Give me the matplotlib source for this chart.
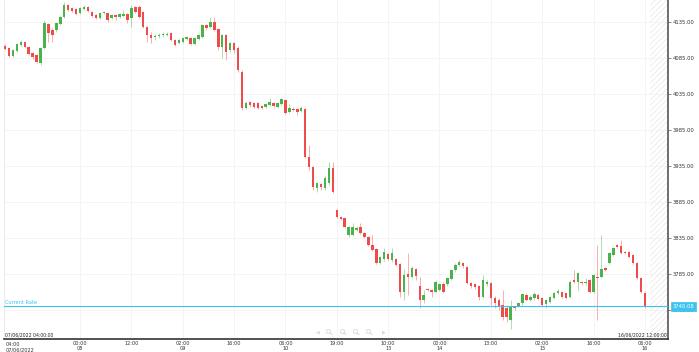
import matplotlib
matplotlib.use("Agg")
import matplotlib.pyplot as plt
import numpy as np

# hourly candles, 07/06/2022 04:00 -> 16/06/2022 12:00
opens = [4102, 4099, 4088, 4095, 4103, 4107, 4100, 4092, 4089, 4078,
         4099, 4132, 4124, 4124, 4132, 4142, 4159, 4155, 4153, 4148,
         4153, 4156, 4149, 4145, 4141, 4148, 4148, 4141, 4145, 4142,
         4143, 4146, 4141, 4156, 4156, 4149, 4128, 4117, 4114, 4115,
         4117, 4117, 4120, 4110, 4106, 4107, 4111, 4113, 4105, 4111,
         4114, 4131, 4128, 4135, 4125, 4100, 4117, 4096, 4106, 4099,
         4066, 4016, 4024, 4022, 4022, 4018, 4017, 4020, 4022, 4017,
         4021, 4027, 4010, 4014, 4014, 4011, 4014, 3948, 3934, 3905,
         3910, 3905, 3911, 3932, 3874, 3864, 3863, 3839, 3839, 3846,
         3850, 3842, 3836, 3825, 3820, 3800, 3806, 3813, 3805, 3806,
         3799, 3760, 3785, 3781, 3792, 3768, 3749, 3764, 3763, 3760,
         3763, 3771, 3771, 3778, 3791, 3798, 3800, 3795, 3773, 3771,
         3768, 3753, 3771, 3773, 3752, 3749, 3742, 3738, 3721, 3739.5,
         3741, 3745, 3756, 3749, 3752, 3756, 3752, 3743, 3746, 3752,
         3759, 3760, 3759, 3753, 3777, 3774, 3774, 3772.5, 3777, 3760,
         3781, 3781, 3793, 3800, 3811, 3825, 3824, 3816, 3816, 3811,
         3800, 3780, 3759]
highs = [4105, 4100, 4098, 4106, 4110, 4109, 4102, 4093, 4091, 4100,
         4138, 4134, 4127, 4135, 4145, 4163, 4160, 4156, 4155, 4156,
         4159, 4157, 4150, 4146, 4149, 4150, 4149, 4146, 4146, 4148,
         4152, 4148, 4159, 4157, 4159, 4150, 4130, 4121, 4118, 4120,
         4121, 4121, 4121, 4111, 4111, 4114, 4116, 4114, 4114, 4118,
         4132, 4132, 4142, 4142, 4127, 4118, 4118, 4107, 4107, 4102,
         4068, 4025, 4025, 4024, 4024, 4020, 4022, 4030, 4024, 4024,
         4030, 4028, 4021, 4017, 4016, 4018, 4016, 3964, 3935, 3913,
         3911, 3921, 3941, 3941, 3875, 3866, 3864, 3852, 3856, 3852,
         3856, 3843, 3838, 3839, 3821, 3810, 3821, 3814, 3821, 3807,
         3800, 3792, 3814, 3796, 3793, 3781, 3763, 3766, 3764, 3777,
         3773, 3774, 3781, 3792, 3800, 3805, 3802, 3796, 3774, 3773,
         3770, 3784, 3777, 3774, 3755, 3752, 3763, 3742, 3749, 3741,
         3746, 3759, 3759, 3756, 3760, 3759, 3753, 3750, 3755, 3760,
         3764, 3761, 3760, 3777, 3791, 3788, 3775, 3780, 3778, 3785,
         3825, 3839, 3795, 3816, 3823, 3827, 3832, 3817, 3817, 3813,
         3802, 3781, 3760]
lows = [4096, 4086, 4086, 4093, 4102, 4099, 4089, 4084, 4078, 4075,
        4098, 4107, 4107, 4121, 4131, 4141, 4150, 4149, 4145, 4146,
        4152, 4149, 4142, 4139, 4139, 4146, 4135, 4139, 4138, 4141,
        4142, 4134, 4128, 4148, 4141, 4127, 4107, 4106, 4110, 4113,
        4114, 4116, 4109, 4102, 4105, 4106, 4110, 4103, 4103, 4110,
        4113, 4124, 4127, 4122, 4096, 4085, 4082, 4093, 4092, 4066,
        4013, 4014, 4017, 4016, 4014, 4014, 4016, 4018, 4017, 4016,
        4020, 4007, 4009, 4011, 4006, 4010, 3946, 3930, 3902, 3899,
        3902, 3902, 3909, 3898, 3863, 3860, 3849, 3836, 3838, 3845,
        3841, 3835, 3824, 3817, 3799, 3799, 3803, 3804, 3802, 3796,
        3753, 3749, 3756, 3780, 3777, 3738, 3745, 3761, 3753, 3759,
        3761, 3759, 3768, 3777, 3788, 3796, 3793, 3771, 3766, 3764,
        3749, 3752, 3768, 3742, 3738, 3735, 3721, 3718, 3709, 3735,
        3739, 3742, 3748, 3748, 3749, 3749, 3741, 3738, 3745, 3750,
        3757, 3752, 3750, 3752, 3772, 3763, 3770, 3770, 3759, 3759,
        3721, 3779, 3789, 3799, 3810, 3821, 3813, 3813, 3807, 3799,
        3778, 3759, 3738]
closes = [4098, 4088, 4096, 4105, 4107, 4100, 4091, 4086, 4080, 4099,
          4134, 4120, 4117, 4134, 4142, 4159, 4152, 4150, 4146, 4155,
          4156, 4150, 4143, 4141, 4148, 4149, 4138, 4145, 4142, 4146,
          4146, 4138, 4155, 4149, 4142, 4128, 4117, 4113, 4116, 4117,
          4119, 4119, 4110, 4103, 4110, 4113, 4114, 4105, 4113, 4117,
          4131, 4127, 4135, 4124, 4100, 4117, 4093, 4106, 4096, 4068,
          4016, 4023, 4020, 4017, 4016, 4016, 4021, 4024, 4018, 4022,
          4028, 4009, 4016, 4013, 4010, 4016, 3948, 3934, 3906, 3911,
          3906, 3918, 3932, 3899, 3864, 3861, 3850, 3850, 3850, 3849,
          3842, 3836, 3825, 3818, 3800, 3809, 3816, 3806, 3814, 3798,
          3760, 3784, 3781, 3793, 3782, 3749, 3756, 3763, 3760, 3774,
          3771, 3760, 3780, 3791, 3798, 3802, 3796, 3773, 3768, 3767,
          3753, 3777, 3774, 3752, 3745, 3739, 3725, 3725, 3739, 3738,
          3745, 3757, 3749, 3753, 3757, 3750, 3742, 3749, 3753, 3759,
          3761, 3753, 3752, 3774, 3774, 3786, 3772.5, 3774, 3760, 3784,
          3779.5, 3792, 3791, 3814, 3821, 3822.5, 3814, 3814, 3809, 3800,
          3780, 3760, 3740.08]

tick_idx = [19, 32, 45, 58, 71, 84, 97, 110, 123, 136, 149, 162]
tick_labels = ["00:00\n08", "12:00", "02:00\n09", "16:00", "06:00\n10", "19:00",
               "10:00\n13", "00:00\n14", "13:00", "02:00\n15", "16:00", "06:00\n16"]
price_ticks = [3735, 3785, 3835, 3885, 3935, 3985, 4035, 4085, 4135]
current_rate = 3740.08

RED = "#f04b4b"
GREEN = "#4bb34b"
CYAN = "#3dc3ef"

plt.rcParams["hatch.linewidth"] = 0.5
fig = plt.figure(figsize=(6.99, 3.52), dpi=100)
ax = fig.add_axes([4 / 699, 13 / 352, 664 / 699, 339 / 352])

x = np.arange(len(opens))
o = np.array(opens, dtype=float)
c = np.array(closes, dtype=float)
h = np.array(highs, dtype=float)
l = np.array(lows, dtype=float)
up = c >= o
cols = np.where(up, GREEN, RED)

ax.vlines(x, l, h, colors=cols, linewidth=0.7, alpha=0.45, zorder=2)
body = np.maximum(np.abs(c - o), 1.2)
ax.bar(x, body, bottom=np.minimum(o, c), width=0.62, color=cols, linewidth=0, zorder=3)

xmax = 167.85
ax.set_xlim(-0.25, xmax)
ax.set_ylim(3694.8, 4165.6)

# future area
ax.axvspan(163.3, xmax, facecolor="white", edgecolor="#e6e6e6", hatch="//////",
           linewidth=0, zorder=0)

ax.set_xticks(tick_idx)
ax.set_xticklabels(tick_labels, fontsize=3.6, color="#333333", linespacing=1.1)
ax.tick_params(axis="x", length=0, pad=1.5)
ax.yaxis.tick_right()
ax.set_yticks(price_ticks)
ax.set_yticklabels(["%.2f" % v for v in price_ticks], fontsize=3.8, color="#333333")
ax.tick_params(axis="y", length=2, width=0.5, color="#555555", pad=1.5)
ax.grid(True, color="#f2f2f2", linewidth=0.6, zorder=0)
ax.set_axisbelow(True)

for s in ["top"]:
    ax.spines[s].set_visible(False)
ax.spines["left"].set_color("#e6e6e6")
ax.spines["left"].set_linewidth(0.6)
ax.spines["right"].set_color("#555555")
ax.spines["right"].set_linewidth(1.2)
ax.spines["bottom"].set_color("#333333")
ax.spines["bottom"].set_linewidth(1.2)

# first label on the left edge
ax.annotate("04:00\n07/06/2022", xy=(0, 0), xycoords="axes fraction",
            xytext=(1, -2.5), textcoords="offset points", ha="left", va="top",
            fontsize=3.6, color="#333333", linespacing=1.1)
ax.text(0.002, 0.004, "07/06/2022 04:00:00", transform=ax.transAxes, ha="left",
        va="bottom", fontsize=3.3, color="#222222")
ax.text(0.998, 0.004, "16/06/2022 12:00:00", transform=ax.transAxes, ha="right",
        va="bottom", fontsize=3.3, color="#222222")

# current rate line
ax.axhline(current_rate, color=CYAN, linewidth=0.8, zorder=4)
ax.text(0.002, current_rate + 2.5, "Current Rate", transform=ax.get_yaxis_transform(),
        ha="left", va="bottom", fontsize=3.6, color=CYAN)
ax.annotate("%.2f" % current_rate, xy=(1, current_rate),
            xycoords=ax.get_yaxis_transform(), xytext=(3.5, 0),
            textcoords="offset points", ha="left", va="center", fontsize=3.8,
            color="white", annotation_clip=False,
            bbox=dict(boxstyle="square,pad=0.35", fc=CYAN, ec=CYAN, lw=0.5))

# faint navigation icons
nav_y = 3705
ax.text(79.2, nav_y, "\u25C0", fontsize=3.5, color="#d9d9d9", ha="center", va="center")
ax.text(174.5 - 94.9, nav_y, "", fontsize=3)
for xi in [81.8, 85.3, 88.6, 91.9]:
    ax.plot([xi], [nav_y + 1], marker="o", markersize=3, markerfacecolor="none",
            markeredgecolor="#d9d9d9", markeredgewidth=0.6)
    ax.plot([xi + 0.5, xi + 1.0], [nav_y - 1.5, nav_y - 4], color="#d9d9d9", linewidth=0.7)
ax.text(95.9, nav_y, "\u25B6", fontsize=3.5, color="#d9d9d9", ha="center", va="center")

fig.savefig("out.png", dpi=100)
